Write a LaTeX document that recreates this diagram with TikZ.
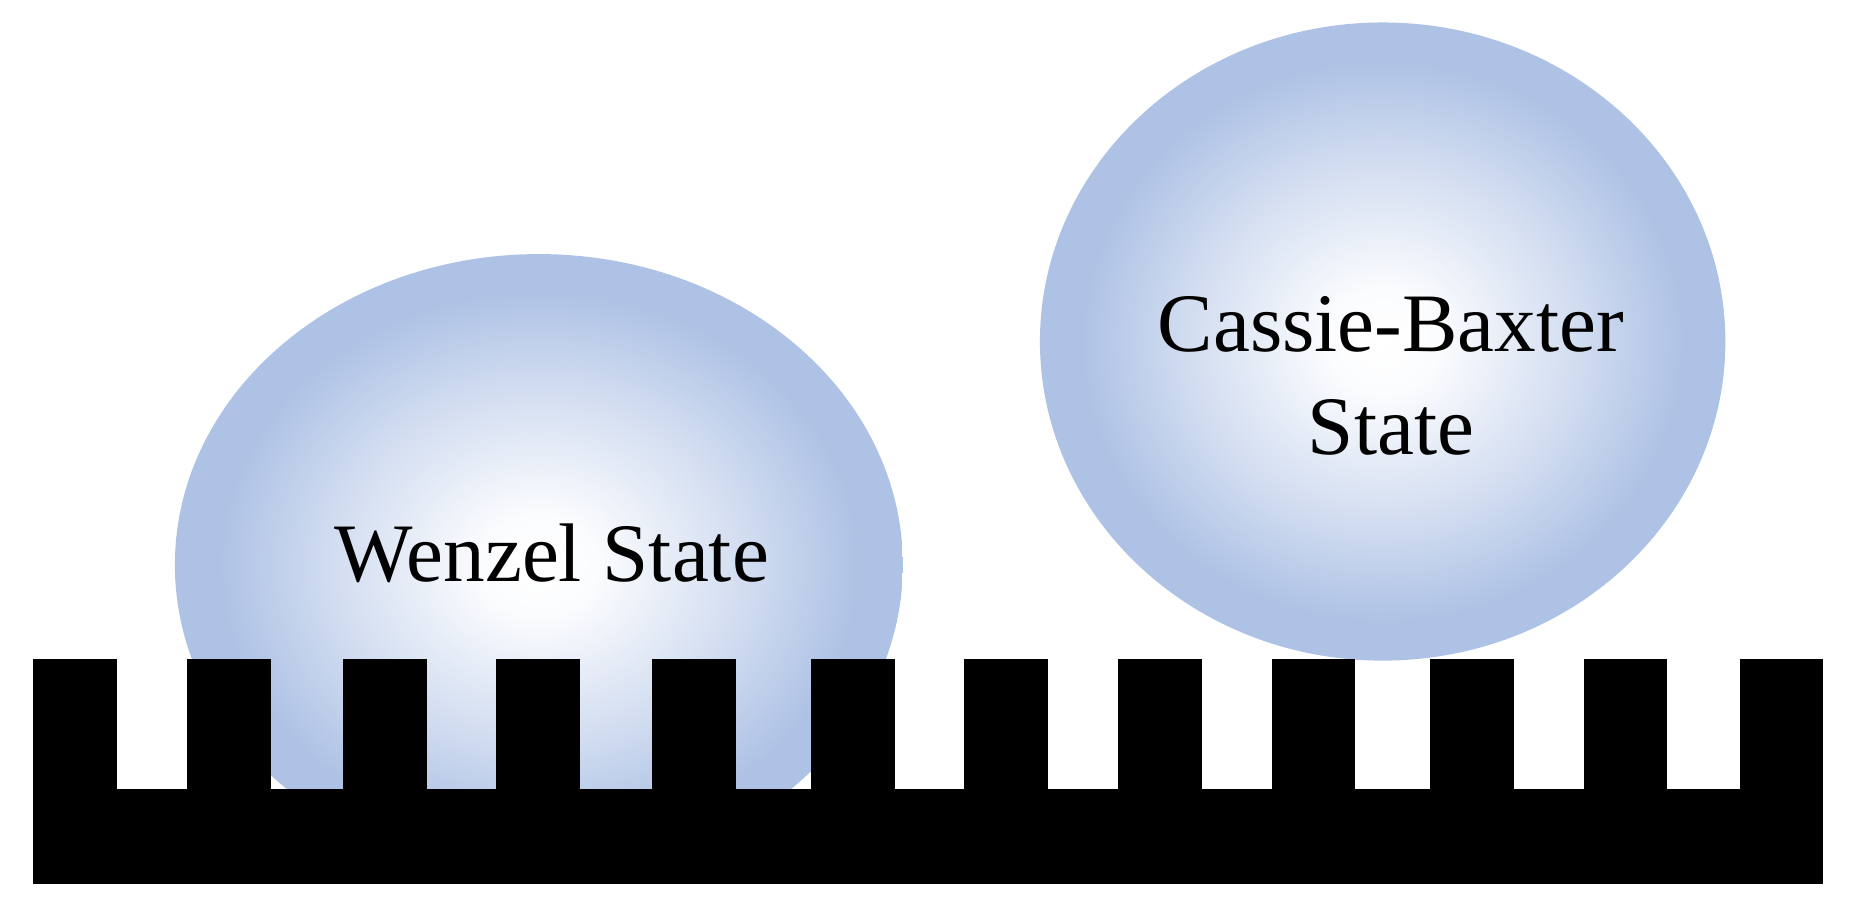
\documentclass[tikz,border=0pt]{standalone}
\usepackage{fontspec}
\setmainfont{Liberation Serif}
\definecolor{drop}{RGB}{174,194,229}
\pgfdeclareradialshading{dropshade}{\pgfpoint{0bp}{0bp}}{%
 color(0bp)=(white); color(4bp)=(white!95!drop); color(14bp)=(white!45!drop); color(22bp)=(drop); color(50bp)=(drop)}
\tikzset{lbl/.style={font=\fontsize{20pt}{24.7pt}\selectfont, align=center, inner sep=0pt},
 pillar/.style={fill=black}}
\begin{document}
\begin{tikzpicture}[x=0.01cm,y=-0.01cm]
\useasboundingbox (0,0) rectangle (1568,772);
\begin{scope}
\clip (0,0) rectangle (1568,668);
\shade[shading=dropshade] (456,478) ellipse [x radius=308, y radius=263];
\end{scope}
\shade[shading=dropshade] (1170,289) ellipse [x radius=290, y radius=270];
% substrate
\fill (28,668) rectangle (1543,748);
\foreach \x in {28,158,290,420,552,686,816,946,1076,1210,1340,1472}
  \fill (\x,558) rectangle ++(71,110);
\node[lbl] (w) at (467,468) {Wenzel State};
\node[lbl] (c) at (1177,318) {Cassie-Baxter\\State};
\end{tikzpicture}
\end{document}
